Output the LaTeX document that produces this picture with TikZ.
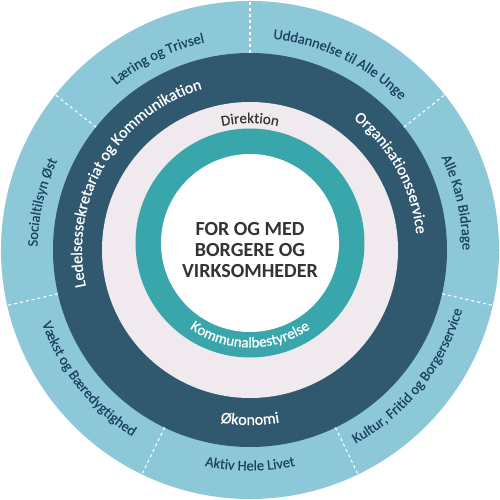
\documentclass[tikz,border=0pt]{standalone}
\usepackage{fontspec}
\setmainfont{Carlito}
\newfontfamily\navyface[FakeBold=0.35]{Carlito}
\newfontfamily\bandface[FakeBold=0.9]{Carlito}
\usetikzlibrary{decorations.text}

\definecolor{ringsky}{HTML}{8DC8D9}
\definecolor{ringslate}{HTML}{30596F}
\definecolor{ringmist}{HTML}{F0EAEE}
\definecolor{ringteal}{HTML}{39A6AB}
\definecolor{labelnavy}{HTML}{1B4260}
\definecolor{hubtext}{HTML}{333333}

\newcommand\outerfont{\navyface\fontsize{14.5}{14.5}\selectfont}
\newcommand\bandfont{\bandface\fontsize{16}{16}\selectfont}
\newcommand\mistfont{\navyface\fontsize{15}{15}\selectfont}
\newcommand\tealfont{\bandface\fontsize{15}{15}\selectfont}

% Text set along a circular arc.
% #1 centre, #2 middle angle, #3 radius, #4 half span (positive: clockwise,
% letters upright outward; negative: anticlockwise, letters upright inward),
% #5 colour, #6 font, #7 text
\newcommand\arclabel[7]{%
  \pgfmathsetmacro\rlstart{#2+(#4)}%
  \pgfmathsetmacro\rlend{#2-(#4)}%
  \path[decorate,decoration={text along path,text align=center,
        text color=#5,text={|#6|#7}}]
    (#1) ++(\rlstart:#3) arc[start angle=\rlstart,end angle=\rlend,radius=#3];}

\tikzset{
  divider/.style={draw=white,line width=1.1pt,dash pattern=on 3pt off 3pt},
  hublabel/.style={align=center,text=hubtext,font=\fontsize{20}{21}\selectfont\bfseries}
}

\begin{document}
\begin{tikzpicture}[x=1pt,y=1pt]
\useasboundingbox (-250,-250) rectangle (250,250);
\coordinate (O) at (0,0);
\coordinate (T) at (0,7);

% rings, from the outside in
\fill[ringsky]   (O) circle[radius=249];
\fill[ringslate] (O) circle[radius=197];
\fill[ringmist]  (O) circle[radius=148];
\fill[ringteal]  (T) circle[radius=114.5];
\fill[white]     (T) circle[radius=89];

% dashed borders between the seven outer sectors
\foreach \k in {0,...,6}{
  \pgfmathsetmacro\dang{90-\k*360/7}
  \draw[divider] (\dang:197) -- (\dang:249);
}

% outer sectors
\arclabel{O}{115.7}{212.5}{25.5}{labelnavy}{\outerfont}{Læring og Trivsel}
\arclabel{O}{64.3}{212.5}{25.5}{labelnavy}{\outerfont}{Uddannelse til Alle Unge}
\arclabel{O}{12.9}{212.5}{25.5}{labelnavy}{\outerfont}{Alle Kan Bidrage}
\arclabel{O}{-38.6}{220.5}{-25.5}{labelnavy}{\outerfont}{Kultur, Fritid og Borgerservice}
\arclabel{O}{-90}{220.5}{-25.5}{labelnavy}{\outerfont}{Aktiv Hele Livet}
\arclabel{O}{-141.4}{220.5}{-25.5}{labelnavy}{\outerfont}{Vækst og Bæredygtighed}
\arclabel{O}{167.1}{212.5}{25.5}{labelnavy}{\outerfont}{Socialtilsyn Øst}

% staff band
\arclabel{O}{149.5}{168}{60}{white}{\bandfont}{Ledelsessekretariat og Kommunikation}
\arclabel{O}{28.6}{167}{40}{white}{\bandfont}{Organisationsservice}
\arclabel{O}{-90}{175}{-30}{white}{\bandfont}{Økonomi}

% management and council
\arclabel{O}{90}{127}{30}{hubtext}{\mistfont}{Direktion}
\arclabel{T}{-90}{104.5}{-50}{white}{\tealfont}{Kommunalbestyrelse}

% centre
\node[hublabel] (hub) at (0,0) {FOR OG MED\\BORGERE OG\\VIRKSOMHEDER};
\end{tikzpicture}
\end{document}
